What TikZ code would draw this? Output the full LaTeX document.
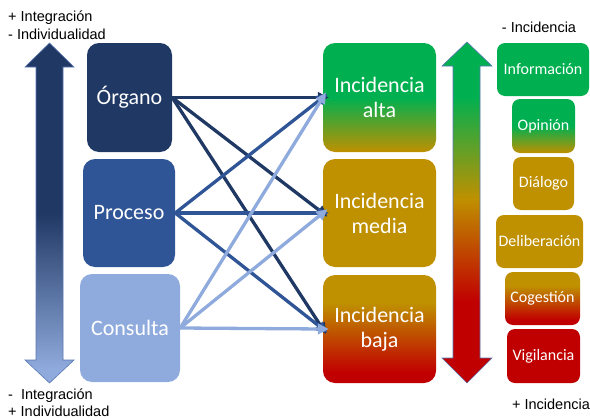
\documentclass[tikz,border=0pt]{standalone}
\usepackage{fontspec}
\setmainfont{Liberation Sans}
\newfontfamily\calib{Carlito}
\usetikzlibrary{arrows.meta}
\definecolor{navy}{HTML}{203864}
\definecolor{proc}{HTML}{2F5597}
\definecolor{cons}{HTML}{8FAADC}
\definecolor{grn}{HTML}{00B050}
\definecolor{gold}{HTML}{BF9000}
\definecolor{red}{HTML}{C00000}
\definecolor{edge}{HTML}{5A78B4}
\pgfdeclareverticalshading{altasc}{100bp}{color(0bp)=(gold); color(25bp)=(gold); color(50bp)=(grn); color(100bp)=(grn)}
\pgfdeclareverticalshading{bajasc}{100bp}{color(0bp)=(red); color(30bp)=(red); color(62bp)=(gold); color(100bp)=(gold)}
\pgfdeclareverticalshading{rarrsc}{100bp}{color(0bp)=(red); color(37bp)=(red); color(52bp)=(gold); color(67bp)=(grn); color(100bp)=(grn)}
\pgfdeclareverticalshading{larrsc}{100bp}{color(0bp)=(cons); color(27bp)=(cons); color(50bp)=(navy); color(100bp)=(navy)}
\tikzset{
  bigbox/.style={rectangle, rounded corners=12pt, draw=none, text=white, align=center,
    font=\calib\fontsize{22}{25}\selectfont, inner sep=0pt},
  smallbox/.style={rectangle, rounded corners=8pt, draw=none, text=white, align=center,
    font=\calib\fontsize{16}{18}\selectfont, inner sep=0pt, minimum height=53pt},
  lbl/.style={inner sep=0pt, font=\fontsize{14.5}{16}\selectfont},
  conn/.style={line width=3.3pt, -{Triangle[length=11pt,width=10.5pt]}, shorten >=-6pt},
  bigarr/.style={draw=edge, line width=0.6pt}
}
\begin{document}
\begin{tikzpicture}[x=1pt,y=-1pt]
\useasboundingbox (0,0) rectangle (590,418);
% left double arrow
\shade[shading=larrsc, bigarr] (49.5,43) -- (74,67) -- (63,67) -- (63,360) -- (74,360) -- (49.5,383)
  -- (25,360) -- (36,360) -- (36,67) -- (25,67) -- cycle;
% right double arrow
\shade[shading=rarrsc, bigarr] (467,42) -- (492,66) -- (480,66) -- (480,358) -- (492,358) -- (467,383)
  -- (442,358) -- (453,358) -- (453,66) -- (442,66) -- cycle;
% text labels
\node[lbl, anchor=west] (t1) at (8,18) {+ Integración};
\node[lbl, anchor=west] (t2) at (8,34) {- Individualidad};
\node[lbl, anchor=west] (t3) at (8,396) {-\ \ Integración};
\node[lbl, anchor=west] (t4) at (8,411) {+ Individualidad};
\node[lbl] (t5) at (539,27) {- Incidencia};
\node[lbl] (t6) at (551,404) {+ Incidencia};
% left boxes
\node[bigbox, fill=navy, minimum width=85pt, minimum height=109pt] (org) at (129.5,97.5) {Órgano};
\node[bigbox, fill=proc, minimum width=92pt, minimum height=108pt] (pro) at (129,213) {Proceso};
\node[bigbox, fill=cons, minimum width=100pt, minimum height=108pt] (con) at (130,328) {Consulta};
% middle boxes
\node[bigbox, shading=altasc, minimum width=113pt, minimum height=109pt] (alta) at (379.5,97.5) {Incidencia\\alta};
\node[bigbox, fill=gold, minimum width=113pt, minimum height=108pt] (media) at (379.5,213) {Incidencia\\media};
\node[bigbox, shading=bajasc, minimum width=113pt, minimum height=108pt] (baja) at (379.5,329) {Incidencia\\baja};
% right boxes
\node[smallbox, fill=grn, minimum width=92pt] (inf) at (543,69.5) {Información};
\node[smallbox, shading=altasc, minimum width=63pt, minimum height=54pt] (opi) at (543.5,126) {Opinión};
\node[smallbox, fill=gold, minimum width=61pt] (dia) at (543.5,183.5) {Diálogo};
\node[smallbox, fill=gold, minimum width=87pt] (del) at (539.5,241.5) {Deliberación};
\node[smallbox, shading=bajasc, minimum width=75pt] (cog) at (542.5,298.5) {Cogestión};
\node[smallbox, fill=red, minimum width=73pt, minimum height=54pt] (vig) at (543.5,356) {Vigilancia};
% connectors
\draw[conn, navy] (org.east) -- (alta.west);
\draw[conn, navy] (org.east) -- (media.west);
\draw[conn, navy] (org.east) -- (baja.west);
\draw[conn, proc] (pro.east) -- (alta.west);
\draw[conn, proc] (pro.east) -- (media.west);
\draw[conn, proc] (pro.east) -- (baja.west);
\draw[conn, cons] (con.east) -- (alta.west);
\draw[conn, cons] (con.east) -- (media.west);
\draw[conn, cons] (con.east) -- (baja.west);
\end{tikzpicture}
\end{document}
